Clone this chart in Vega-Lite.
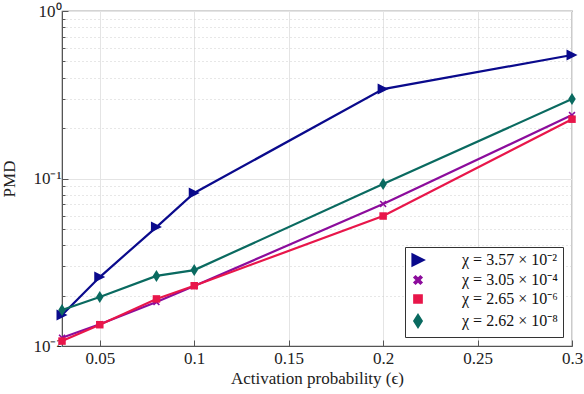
{
  "$schema": "https://vega.github.io/schema/vega-lite/v6.json",
  "width": 510,
  "height": 335,
  "autosize": "none",
  "padding": {"left": 62, "top": 11, "right": 12, "bottom": 48},
  "background": "white",
  "config": {
    "font": "Liberation Serif",
    "view": {"stroke": "#555", "strokeWidth": 1.2},
    "axis": {"labelFont": "Liberation Serif", "titleFont": "Liberation Serif", "labelFontSize": 17, "titleFontSize": 17, "titleFontWeight": "normal", "labelColor": "#222", "titleColor": "#222", "domainColor": "#555", "tickColor": "#555"}
  },
  "data": {"values": [
    {"s": "χ = 3.57 × 10⁻²", "x": 0.03, "y": 0.0153},
    {"s": "χ = 3.57 × 10⁻²", "x": 0.05, "y": 0.0258},
    {"s": "χ = 3.57 × 10⁻²", "x": 0.08, "y": 0.0513},
    {"s": "χ = 3.57 × 10⁻²", "x": 0.1, "y": 0.0819},
    {"s": "χ = 3.57 × 10⁻²", "x": 0.2, "y": 0.342},
    {"s": "χ = 3.57 × 10⁻²", "x": 0.3, "y": 0.546},
    {"s": "χ = 3.05 × 10⁻⁴", "x": 0.03, "y": 0.0112},
    {"s": "χ = 3.05 × 10⁻⁴", "x": 0.05, "y": 0.0135},
    {"s": "χ = 3.05 × 10⁻⁴", "x": 0.08, "y": 0.0183},
    {"s": "χ = 3.05 × 10⁻⁴", "x": 0.1, "y": 0.0228},
    {"s": "χ = 3.05 × 10⁻⁴", "x": 0.2, "y": 0.0705},
    {"s": "χ = 3.05 × 10⁻⁴", "x": 0.3, "y": 0.239},
    {"s": "χ = 2.65 × 10⁻⁶", "x": 0.03, "y": 0.0107},
    {"s": "χ = 2.65 × 10⁻⁶", "x": 0.05, "y": 0.0134},
    {"s": "χ = 2.65 × 10⁻⁶", "x": 0.08, "y": 0.0191},
    {"s": "χ = 2.65 × 10⁻⁶", "x": 0.1, "y": 0.0229},
    {"s": "χ = 2.65 × 10⁻⁶", "x": 0.2, "y": 0.0597},
    {"s": "χ = 2.65 × 10⁻⁶", "x": 0.3, "y": 0.226},
    {"s": "χ = 2.62 × 10⁻⁸", "x": 0.03, "y": 0.0164},
    {"s": "χ = 2.62 × 10⁻⁸", "x": 0.05, "y": 0.0196},
    {"s": "χ = 2.62 × 10⁻⁸", "x": 0.08, "y": 0.0262},
    {"s": "χ = 2.62 × 10⁻⁸", "x": 0.1, "y": 0.0284},
    {"s": "χ = 2.62 × 10⁻⁸", "x": 0.2, "y": 0.0927},
    {"s": "χ = 2.62 × 10⁻⁸", "x": 0.3, "y": 0.298}
  ]},
  "encoding": {
    "x": {"field": "x", "type": "quantitative",
      "scale": {"domain": [0.03, 0.3], "nice": false, "zero": false},
      "axis": {"title": "Activation probability (ϵ)", "values": [0.05, 0.1, 0.15, 0.2, 0.25, 0.3],
        "labelExpr": "format(datum.value, '~g')", "tickSize": -6, "labelPadding": 10, "titlePadding": 4,
        "grid": true, "gridColor": "#e4e4e4", "gridWidth": 1, "labelFlush": false}},
    "y": {"field": "y", "type": "quantitative",
      "scale": {"type": "log", "domain": [0.01, 1], "nice": false},
      "axis": {"title": "PMD", "titlePadding": 14,
        "values": [0.01, 0.02, 0.03, 0.04, 0.05, 0.06, 0.07, 0.08, 0.09, 0.1, 0.2, 0.3, 0.4, 0.5, 0.6, 0.7, 0.8, 0.9, 1],
        "labelExpr": "datum.value == 0.01 ? '10⁻²' : datum.value == 0.1 ? '10⁻¹' : datum.value == 1 ? '10⁰' : ''",
        "labelPadding": 7, "labelFlush": false,
        "grid": true,
        "gridColor": {"condition": {"test": "datum.value == 0.01 || datum.value == 0.1 || datum.value == 1", "value": "#e4e4e4"}, "value": "#cfcfcf"},
        "gridDash": {"condition": {"test": "datum.value == 0.01 || datum.value == 0.1 || datum.value == 1", "value": []}, "value": [1, 3]},
        "tickSize": {"condition": {"test": "datum.value == 0.01 || datum.value == 0.1 || datum.value == 1", "value": -6}, "value": -3}}},
    "color": {"field": "s", "type": "nominal",
      "scale": {"domain": ["χ = 3.57 × 10⁻²", "χ = 3.05 × 10⁻⁴", "χ = 2.65 × 10⁻⁶", "χ = 2.62 × 10⁻⁸"], "range": ["#0a0a8c", "#8c0c9c", "#e8164a", "#0a6a60"]},
      "legend": {"title": null, "orient": "bottom-right", "offset": 9, "strokeColor": "#333", "fillColor": "white", "padding": 5,
        "labelFont": "Liberation Serif", "labelFontSize": 16, "labelColor": "#111", "symbolSize": 100, "labelOffset": 36, "rowPadding": 2,
        "encoding": {"symbols": {
          "shape": {"condition": [
            {"test": "datum.value === 'χ = 3.57 × 10⁻²'", "value": "M-1,0H7M1.8,-1.2L4.2,0L1.8,1.2Z"},
            {"test": "datum.value === 'χ = 3.05 × 10⁻⁴'", "value": "M-1,0H7M2.4,-0.6L3.6,0.6M3.6,-0.6L2.4,0.6"},
            {"test": "datum.value === 'χ = 2.65 × 10⁻⁶'", "value": "M-1,0H7M2.3,-0.75H3.8V0.75H2.3Z"}],
            "value": "M-1,0H7M3,-1.25L3.75,0L3,1.25L2.25,0Z"},
          "strokeWidth": {"value": 2.2}}}}}
  },
  "layer": [
    {"mark": {"type": "line", "strokeWidth": 2.2}},
    {"mark": {"type": "point", "filled": true, "opacity": 1, "size": 100},
     "encoding": {
       "shape": {"field": "s", "type": "nominal",
         "scale": {"domain": ["χ = 3.57 × 10⁻²", "χ = 3.05 × 10⁻⁴", "χ = 2.65 × 10⁻⁶", "χ = 2.62 × 10⁻⁸"], "range": ["M-1.1,-1.1L1.1,0L-1.1,1.1Z", "M-0.7,-0.48L-0.48,-0.7L0,-0.22L0.48,-0.7L0.7,-0.48L0.22,0L0.7,0.48L0.48,0.7L0,0.22L-0.48,0.7L-0.7,0.48L-0.22,0Z", "M-0.75,-0.75H0.75V0.75H-0.75Z", "M0,-1.2L0.75,0L0,1.2L-0.75,0Z"]},
         "legend": null}
     }}
  ]
}
